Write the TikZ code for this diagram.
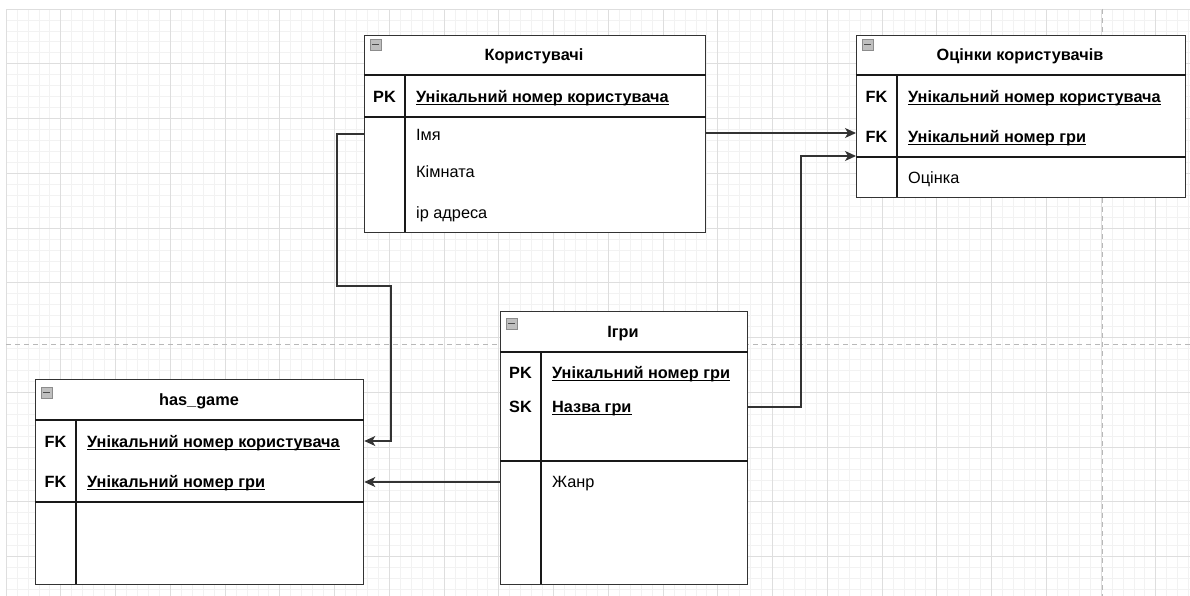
\documentclass[tikz,border=0pt]{standalone}
\usepackage{fontspec}
\setmainfont{Liberation Sans}
\usetikzlibrary{arrows.meta,positioning,calc}

\newcommand{\keyname}[1]{\underline{\smash{#1}}}

\begin{document}
\begin{tikzpicture}[
  x=1pt, y=-1pt,
  minorgrid/.style={draw=black!5, line width=0.7pt, step=10.95pt},
  majorgrid/.style={draw=black!13, line width=0.8pt, step=54.75pt},
  pagebreak/.style={draw=black!28, line width=1pt, dash pattern=on 5pt off 4pt},
  entity/.style={rectangle, draw=black!80, line width=1.3pt, fill=white,
    anchor=north west, inner sep=0pt},
  sep/.style={line width=1.3pt, draw=black!90},
  title/.style={anchor=base, inner sep=0pt, font=\bfseries\fontsize{16.3}{18}\selectfont},
  keytag/.style={anchor=base, inner sep=0pt, font=\bfseries\fontsize{16.3}{18}\selectfont},
  keyattr/.style={anchor=base west, inner sep=0pt, font=\bfseries\fontsize{16.3}{18}\selectfont},
  attr/.style={anchor=base west, inner sep=0pt, font=\fontsize{16.3}{18}\selectfont},
  minusbox/.style={rectangle, draw=black!45, fill=black!25, minimum size=11pt,
    inner sep=0pt, anchor=north west,
    path picture={\draw[black!70, line width=1.3pt] ([xshift=2pt]path picture bounding box.west) -- ([xshift=-2pt]path picture bounding box.east);}},
  rel/.style={-{Stealth[length=11pt,width=10pt,inset=3pt]}, line width=1.2pt, draw=black!80}
]
  \useasboundingbox (0,0) rectangle (1190,596);
  \fill[white] (0,0) rectangle (1190,596);

  % background grid
  \draw[minorgrid, shift={(6,9)}] (0,587) grid (1184,0);
  \draw[majorgrid, shift={(6,9)}] (0,587) grid (1184,0);
  \draw[pagebreak] (6,344) -- (1190,344);
  \draw[pagebreak] (1102,9) -- (1102,596);

  % Користувачі
  \node[entity, minimum width=341pt, minimum height=197pt] (users) at (364,35) {};
  \draw[sep] (users.west |- 0,75) -- (users.east |- 0,75);
  \draw[sep] (users.west |- 0,117) -- (users.east |- 0,117);
  \draw[sep] (405,75) -- (405,232);
  \node[minusbox] at ([shift={(6,4)}]users.north west) {};
  \node[title] (usersT) at (534,60.5) {Користувачі};
  \node[keytag] (usersPK) at (384.5,102.5) {PK};
  \node[keyattr] (usersId) at (416,102.5) {\keyname{Унікальний номер користувача}};
  \node[attr] (usersName) at (416,140.5) {Імя};
  \node[attr] (usersRoom) at (416,177.5) {Кімната};
  \node[attr] (usersIp) at (416,218.5) {ip адреса};

  % Оцінки користувачів
  \node[entity, minimum width=329pt, minimum height=162pt] (rating) at (856,35) {};
  \draw[sep] (rating.west |- 0,75) -- (rating.east |- 0,75);
  \draw[sep] (rating.west |- 0,157) -- (rating.east |- 0,157);
  \draw[sep] (897,75) -- (897,197);
  \node[minusbox] at ([shift={(6,4)}]rating.north west) {};
  \node[title] (ratingT) at (1020,60.5) {Оцінки користувачів};
  \node[keytag] (ratingFK1) at (876.5,102.5) {FK};
  \node[keytag] (ratingFK2) at (876.5,142.5) {FK};
  \node[keyattr] (ratingUser) at (908,102.5) {\keyname{Унікальний номер користувача}};
  \node[keyattr] (ratingGame) at (908,142.5) {\keyname{Унікальний номер гри}};
  \node[attr] (ratingVal) at (908,183.5) {Оцінка};

  % Ігри
  \node[entity, minimum width=247pt, minimum height=273pt] (games) at (500,311) {};
  \draw[sep] (games.west |- 0,352) -- (games.east |- 0,352);
  \draw[sep] (games.west |- 0,461) -- (games.east |- 0,461);
  \draw[sep] (541,352) -- (541,584);
  \node[minusbox] at ([shift={(6,7)}]games.north west) {};
  \node[title] (gamesT) at (623,337.5) {Ігри};
  \node[keytag] (gamesPK) at (520.5,378.5) {PK};
  \node[keytag] (gamesSK) at (520.5,412.5) {SK};
  \node[keyattr] (gamesId) at (552,378.5) {\keyname{Унікальний номер гри}};
  \node[keyattr] (gamesName) at (552,412.5) {\keyname{Назва гри}};
  \node[attr] (gamesGenre) at (552,487.5) {Жанр};

  % has_game
  \node[entity, minimum width=328pt, minimum height=205pt] (hasgame) at (35,379) {};
  \draw[sep] (hasgame.west |- 0,420) -- (hasgame.east |- 0,420);
  \draw[sep] (hasgame.west |- 0,502) -- (hasgame.east |- 0,502);
  \draw[sep] (76,420) -- (76,584);
  \node[minusbox] at ([shift={(6,8)}]hasgame.north west) {};
  \node[title] (hasgameT) at (199,405.5) {has\_game};
  \node[keytag] (hasgameFK1) at (55.5,447.5) {FK};
  \node[keytag] (hasgameFK2) at (55.5,487.5) {FK};
  \node[keyattr] (hasgameUser) at (87,447.5) {\keyname{Унікальний номер користувача}};
  \node[keyattr] (hasgameGame) at (87,487.5) {\keyname{Унікальний номер гри}};

  % relations
  \draw[rel] (users.east |- 0,133) -- (rating.west |- 0,133);
  \draw[rel] (games.east |- 0,407) -| (801,156) -- (rating.west |- 0,156);
  \draw[rel] (users.west |- 0,134) -| (337,286) -| (391,441) -- (hasgame.east |- 0,441);
  \draw[rel] (games.west |- 0,482) -- (hasgame.east |- 0,482);
\end{tikzpicture}
\end{document}
